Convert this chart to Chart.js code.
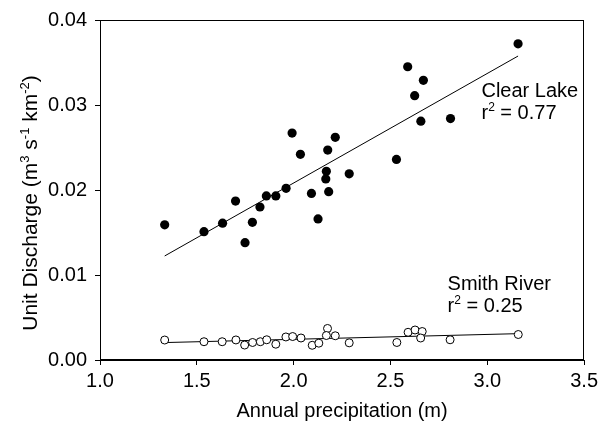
<!DOCTYPE html>
<html><head><meta charset="utf-8">
<script src="https://cdn.jsdelivr.net/npm/chart.js@4/dist/chart.umd.min.js"></script>
<style>html,body{margin:0;padding:0;background:#fff}#wrap{width:602px;height:421px}</style>
</head><body><div id="wrap"><canvas id="c" width="602" height="421"></canvas></div>
<script>
// ---- data ----
const clearLakePrecip = [1.334,1.537,1.633,1.700,1.749,1.787,1.826,1.859,1.908,1.961,1.992,2.035,2.092,2.126,2.169,2.166,2.181,2.176,2.215,2.287,2.531,2.589,2.625,2.670,2.657,2.810,3.159];
const clearLakeDischarge = [0.0159,0.0151,0.0161,0.0187,0.0138,0.0162,0.0180,0.0193,0.0193,0.0202,0.0267,0.0242,0.0196,0.0166,0.0222,0.0213,0.0198,0.0247,0.0262,0.0219,0.0236,0.0345,0.0311,0.0329,0.0281,0.0284,0.0372];
const smithPrecip = [1.334,1.537,1.631,1.702,1.747,1.788,1.828,1.861,1.908,1.960,1.995,2.038,2.096,2.130,2.175,2.169,2.215,2.287,2.533,2.591,2.627,2.664,2.656,2.808,3.160];
const smithDischarge = [0.00235,0.00215,0.00215,0.00236,0.00176,0.00206,0.00215,0.00238,0.00186,0.00271,0.00276,0.00259,0.00173,0.00198,0.00371,0.00288,0.00285,0.00202,0.00206,0.00326,0.00353,0.00335,0.00259,0.00238,0.00300];
const clearLakeFitX = [1.334, 3.159];
const clearLakeFitY = [0.01224, 0.03576];
const smithFitX = [1.334, 3.160];
const smithFitY = [0.00205, 0.00310];
const xTickValues = [1.0, 1.5, 2.0, 2.5, 3.0, 3.5];
const yTickValues = [0.00, 0.01, 0.02, 0.03, 0.04];
const xTitle = 'Annual precipitation (m)';
const yTitleParts = [['Unit Discharge (m',false],['3',true],[' s',false],['-1',true],[' km',false],['-2',true],[')',false]];
const annotations = [
  {x: 2.970, y: 0.03094, lines: [[['Clear Lake',false]], [['r',false],['2',true],[' = 0.77',false]]]},
  {x: 2.795, y: 0.00824, lines: [[['Smith River',false]], [['r',false],['2',true],[' = 0.25',false]]]}
];

const FONT = '"Liberation Sans", Arial, Helvetica, sans-serif';
const toXY = (xs, ys) => xs.map((x, i) => ({x, y: ys[i]}));

function drawRich(ctx, parts, x, y, size) {
  let cx = x;
  for (const [t, sup] of parts) {
    const s = sup ? Math.round(size * 0.62) : size;
    ctx.font = s + 'px ' + FONT;
    ctx.fillText(t, cx, sup ? y - size * 0.38 : y);
    cx += ctx.measureText(t).width;
  }
}
function richWidth(ctx, parts, size) {
  let w = 0;
  for (const [t, sup] of parts) {
    const s = sup ? Math.round(size * 0.62) : size;
    ctx.font = s + 'px ' + FONT;
    w += ctx.measureText(t).width;
  }
  return w;
}

const decor = {
  id: 'decor',
  afterDraw(chart) {
    const {ctx, chartArea: a, scales} = chart;
    ctx.save();
    ctx.strokeStyle = '#000';
    ctx.lineWidth = 1;
    ctx.strokeRect(Math.round(a.left) + 0.5, Math.round(a.top) + 0.5, Math.round(a.right - a.left) - 1, Math.round(a.bottom - a.top) - 1);
    ctx.fillStyle = '#000';
    ctx.textBaseline = 'alphabetic';
    ctx.textAlign = 'left';
    for (const an of annotations) {
      const px = scales.x.getPixelForValue(an.x);
      let py = scales.y.getPixelForValue(an.y);
      for (const line of an.lines) {
        drawRich(ctx, line, px, py, 20);
        py += 22;
      }
    }
    // rotated y title
    const size = 21;
    const w = richWidth(ctx, yTitleParts, size);
    ctx.translate(37, 203);
    ctx.rotate(-Math.PI / 2);
    drawRich(ctx, yTitleParts, -w / 2, 0, size);
    ctx.restore();
  }
};

new Chart(document.getElementById('c'), {
  type: 'scatter',
  data: {
    datasets: [
      {type: 'line', data: toXY(clearLakeFitX, clearLakeFitY), borderColor: '#000', borderWidth: 1, pointRadius: 0, fill: false, order: 3},
      {type: 'line', data: toXY(smithFitX, smithFitY), borderColor: '#000', borderWidth: 1, pointRadius: 0, fill: false, order: 3},
      {label: 'Clear Lake', data: toXY(clearLakePrecip, clearLakeDischarge), backgroundColor: '#000', borderColor: '#000', borderWidth: 0, pointRadius: 4.6, order: 1},
      {label: 'Smith River', data: toXY(smithPrecip, smithDischarge), backgroundColor: '#fff', borderColor: '#000', borderWidth: 1, pointRadius: 4, order: 2}
    ]
  },
  options: {
    responsive: false,
    animation: false,
    devicePixelRatio: 1,
    layout: {padding: {top: 20, right: 16, left: 0, bottom: 0}},
    plugins: {legend: {display: false}, tooltip: {enabled: false}},
    scales: {
      x: {
        type: 'linear', min: 1, max: 3.5,
        afterBuildTicks: s => { s.ticks = xTickValues.map(v => ({value: v})); },
        afterFit: s => { s.height = 61; },
        ticks: {color: '#000', font: {size: 20, family: FONT}, padding: 4, callback: v => Number(v).toFixed(1), maxRotation: 0, autoSkip: false},
        grid: {drawOnChartArea: false, drawTicks: true, tickLength: 5, color: '#000', lineWidth: 1},
        border: {display: true, color: '#000', width: 1},
        title: {display: true, text: xTitle, color: '#000', font: {size: 20, family: FONT, lineHeight: 1.0}, padding: {top: 0, bottom: 0}}
      },
      y: {
        type: 'linear', min: 0, max: 0.04,
        afterBuildTicks: s => { s.ticks = yTickValues.map(v => ({value: v})); },
        afterFit: s => { s.width = 100; },
        ticks: {color: '#000', font: {size: 20, family: FONT}, padding: 8, callback: v => Number(v).toFixed(2), autoSkip: false},
        grid: {drawOnChartArea: false, drawTicks: true, tickLength: 5, color: '#000', lineWidth: 1},
        border: {display: true, color: '#000', width: 1}
      }
    }
  },
  plugins: [decor]
});
</script></body></html>
